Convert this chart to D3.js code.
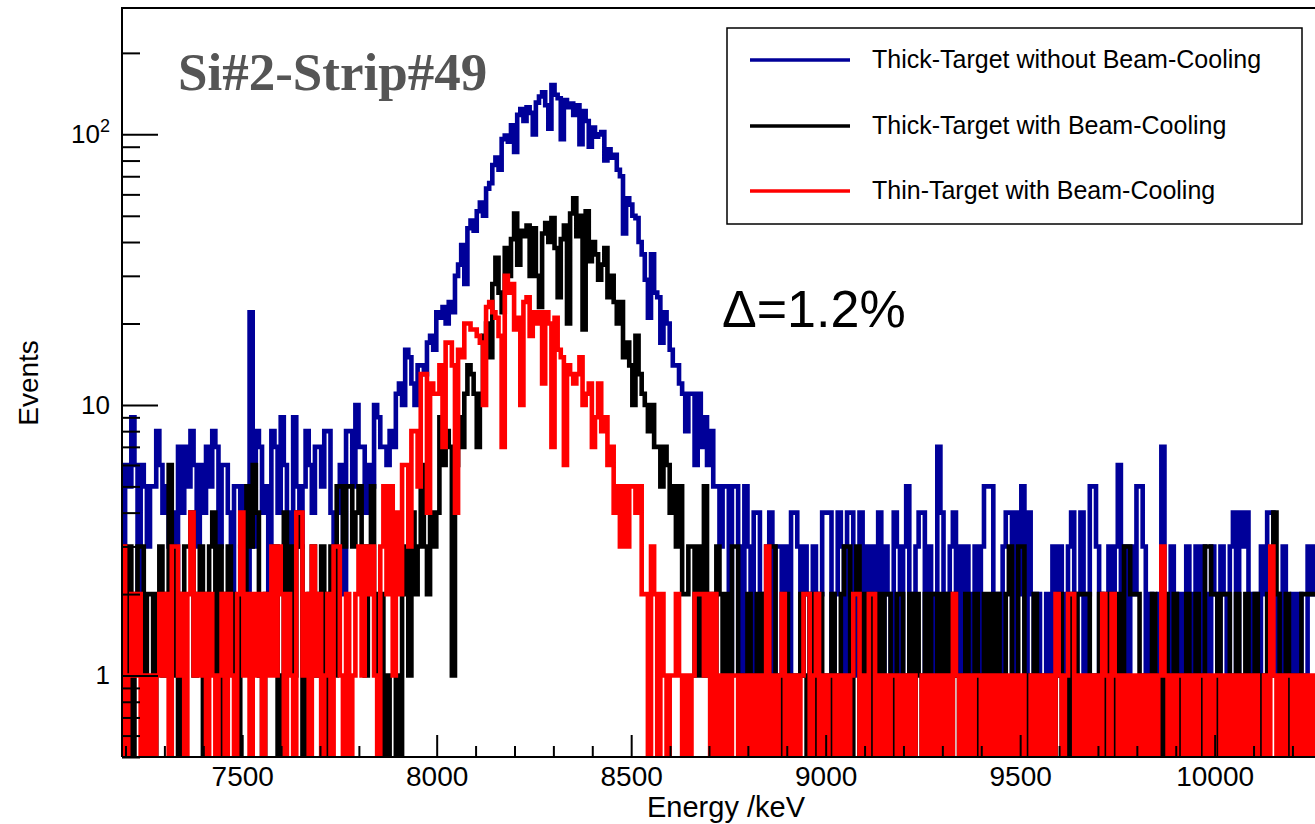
<!DOCTYPE html>
<html>
<head>
<meta charset="utf-8">
<script src="https://cdn.jsdelivr.net/npm/d3@7"></script>
<style>
  body { margin: 0; background: #fff; }
  svg { display: block; }
</style>
</head>
<body>
<svg id="chart" width="1315" height="824" font-family='"Liberation Sans", Arial, Helvetica, sans-serif'></svg>
<script>
// Histogram binning (keV)
const binLow = 7191;
const binWidth = 8;

// Bin contents, Si#2 strip #49 (counts per 8 keV bin)
const thickNoCooling = [
  3,6,5,9,6,2,6,5,3,5,5,8,6,4,5,3,4,2,7,4,7,5,8,6,
  3,6,4,7,5,8,7,3,6,6,4,2,5,5,3,5,2,22,3,8,7,4,5,2,
  8,7,4,9,6,4,3,9,5,3,5,8,6,4,7,7,5,8,8,4,3,4,6,2,
  8,8,5,10,7,7,4,6,5,10,9,7,7,6,8,7,11,12,10,16,15,12,10,14,
  14,13,17,18,16,22,21,23,20,24,22,30,33,39,28,45,48,44,52,56,50,63,66,77,
  82,74,96,99,94,108,86,118,124,112,126,120,100,131,138,143,128,105,152,140,136,96,134,126,
  130,118,128,92,122,112,90,106,98,100,102,80,88,82,84,74,70,43,58,55,50,49,40,36,
  29,21,36,26,25,17,22,20,16,14,14,12,11,8,11,11,6,11,7,9,6,8,5,5,
  3,5,5,1,5,5,3,1,5,3,1,4,4,2,1,3,4,1,3,3,1,3,1,4,
  4,3,1,3,2,0,3,1,2,4,4,4,1,2,4,3,1,4,4,2,1,4,1,3,
  1,3,2,4,1,3,2,1,4,3,1,3,5,2,1,3,4,4,1,3,1,2,7,4,
  1,2,3,4,1,3,1,3,2,1,3,1,3,5,5,5,1,2,1,3,4,4,1,4,
  2,5,1,4,2,1,2,0,0,2,1,3,1,3,2,0,3,4,1,2,4,1,2,5,
  5,3,1,2,1,3,1,3,6,2,3,1,3,2,5,5,3,1,2,1,0,2,7,1,
  1,3,2,1,2,1,3,1,2,3,1,3,2,1,3,2,1,3,2,1,3,4,1,4,
  3,4,1,2,2,1,3,2,4,4,1,2,1,3,1,1,2,0,2,1,1,3,2,3
];

const thickCooling = [
  3,1,3,0,2,3,3,1,2,2,0,2,3,1,2,6,3,1,0,2,3,3,4,1,
  2,3,0,2,3,4,1,3,0,2,3,2,1,0,3,2,5,3,6,4,1,0,2,2,
  2,3,0,1,4,2,3,1,4,3,0,1,2,3,1,2,3,0,2,3,1,5,5,3,
  5,5,3,4,5,3,1,3,5,2,1,2,0,1,0,0,1,0,2,3,1,4,2,3,
  6,3,2,4,3,4,9,6,8,7,1,6,9,7,11,14,13,11,7,11,18,20,15,28,
  35,26,22,38,30,41,51,33,44,42,46,30,45,30,23,43,47,40,49,38,25,41,46,20,
  51,58,42,50,19,52,34,40,36,29,33,38,25,30,24,20,24,15,17,14,10,18,13,11,
  10,8,10,7,7,5,7,6,4,5,3,5,2,2,3,3,1,3,1,5,1,2,1,3,
  2,0,2,1,3,3,1,0,1,2,0,1,2,0,2,0,3,3,1,0,1,2,0,1,
  0,1,2,1,0,2,0,1,2,0,1,0,2,1,0,2,3,3,0,2,3,0,2,1,
  2,0,1,2,0,2,2,0,1,2,2,0,1,2,0,2,1,0,2,0,2,2,0,2,
  1,2,0,2,1,0,1,2,0,1,2,0,1,2,0,2,1,2,0,1,2,3,0,1,
  3,3,0,1,0,2,1,0,1,0,1,0,1,2,0,1,0,2,1,2,2,2,2,0,
  1,0,2,1,0,2,1,0,2,1,3,3,2,2,2,0,1,0,1,2,0,1,0,2,
  1,0,2,1,0,1,2,0,1,2,0,1,3,3,2,2,0,2,2,2,0,1,2,0,
  1,2,0,1,2,0,1,0,2,2,4,2,0,1,2,0,1,0,1,2,2,2,2,2
];

const thinCooling = [
  3,0,1,2,1,2,0,1,0,1,0,1,2,1,2,0,3,3,1,2,0,2,4,1,
  2,1,2,0,2,1,0,1,2,0,2,1,0,2,4,1,2,0,2,1,2,0,2,1,
  3,1,3,2,0,2,1,0,4,4,1,2,0,3,1,2,0,1,2,0,3,3,1,0,
  2,0,1,2,3,1,3,2,3,1,0,3,5,2,5,1,4,2,6,6,3,8,8,5,
  13,13,4,12,11,11,14,7,17,17,14,4,16,15,20,20,19,19,18,17,10,23,24,22,
  21,18,7,30,26,28,19,21,10,24,25,18,22,20,22,12,22,20,7,21,16,15,6,14,
  13,12,13,15,10,11,12,7,9,12,8,9,6,7,4,5,3,5,3,5,5,4,5,2,
  2,0,3,2,0,2,1,0,1,1,2,1,0,1,0,1,2,2,2,1,2,0,2,0,
  1,0,1,0,1,1,0,1,0,1,0,1,0,1,0,3,0,1,0,1,2,0,1,0,
  1,0,1,2,2,0,1,2,0,1,0,1,1,0,1,0,1,0,1,2,2,0,1,0,
  2,2,0,1,0,1,0,1,1,0,1,0,1,0,1,0,0,1,0,1,0,1,0,1,
  0,1,0,2,1,0,1,0,1,0,1,1,0,1,0,1,0,1,0,1,0,1,0,1,
  0,1,0,0,1,0,1,0,1,0,1,0,2,1,0,1,2,2,0,1,0,1,0,1,
  0,1,0,2,1,0,2,1,0,1,0,1,0,1,0,1,0,1,0,1,0,1,3,1,
  0,1,0,1,1,0,1,0,1,0,1,1,0,1,0,1,1,0,1,0,1,0,1,0,
  1,0,1,0,1,0,0,1,0,3,1,0,1,0,1,1,0,1,0,1,0,1,0,1
];

const seriesNames = [
  "Thick-Target without Beam-Cooling",
  "Thick-Target with Beam-Cooling",
  "Thin-Target with Beam-Cooling"
];
const seriesColors = ["#000099", "#000000", "#ff0000"];
const seriesData = [thickNoCooling, thickCooling, thinCooling];

const xMajorTicks = [7500, 8000, 8500, 9000, 9500, 10000];
const yMajorTicks = [1, 10, 100];

(function draw() {
  const svg = d3.select("#chart");
  const frameL = 122, frameR = 1315, frameT = 8, frameB = 757;
  const sans = '"Liberation Sans", Arial, Helvetica, sans-serif';

  const x = d3.scaleLinear().domain([7191, 10258]).range([frameL, frameR]);
  const y = d3.scaleLog().domain([0.5, 293]).range([frameB, frameT]);

  // clip region = frame
  svg.append("defs").append("clipPath").attr("id", "frame")
    .append("rect").attr("x", frameL).attr("y", frameT)
    .attr("width", frameR - frameL).attr("height", frameB - frameT);

  // histograms in outline style; empty bins fall below the frame
  const yOf = v => (v > 0 ? y(v) : frameB + 8);
  const step = d3.line().x(d => x(d[0])).y(d => yOf(d[1])).curve(d3.curveStepAfter);

  const plot = svg.append("g").attr("clip-path", "url(#frame)");
  seriesData.forEach((vals, k) => {
    const pts = vals.map((v, i) => [binLow + i * binWidth, v]);
    pts.push([binLow + vals.length * binWidth, vals[vals.length - 1]]);
    plot.append("path")
      .attr("d", step(pts))
      .attr("fill", "none")
      .attr("stroke", seriesColors[k])
      .attr("stroke-width", 4.6)
      .attr("stroke-linejoin", "miter");
  });

  // frame
  svg.append("path")
    .attr("d", `M${frameL},${frameB}V${frameT}H${frameR + 5}`)
    .attr("fill", "none").attr("stroke", "#000").attr("stroke-width", 2);

  // y axis, ticks pointing inward
  const yMinor = [];
  [0.1, 1, 10, 100].forEach(dec => {
    for (let m = 1; m <= 9; m++) {
      const v = +(m * dec).toFixed(3);
      if (v >= 0.5 && v <= 293 && !yMajorTicks.includes(v)) yMinor.push(v);
    }
  });

  const yAxisMinor = svg.append("g").attr("transform", `translate(${frameL},0)`)
    .call(d3.axisLeft(y).tickValues(yMinor).tickSize(-18).tickSizeOuter(0).tickFormat(""));
  const yAxisMajor = svg.append("g").attr("transform", `translate(${frameL},0)`)
    .call(d3.axisLeft(y).tickValues(yMajorTicks).tickSize(-36).tickSizeOuter(0).tickPadding(12)
      .tickFormat(d => (d === 100 ? "10" : String(d))));

  [yAxisMinor, yAxisMajor].forEach(g => {
    g.select(".domain").remove();
    g.selectAll(".tick line").attr("stroke", "#000").attr("stroke-width", 2);
  });
  yAxisMajor.selectAll(".tick text")
    .attr("font-size", 26).attr("fill", "#000").attr("font-family", sans)
    .each(function (d) {
      if (d === 100) {
        d3.select(this).append("tspan").attr("dy", -11).attr("font-size", 18).text("2");
      }
    });

  // x axis, ticks pointing inward
  const xMinor = d3.range(7200, 10300, 100).filter(v => !xMajorTicks.includes(v) && v <= 10258);
  const xAxisMinor = svg.append("g").attr("transform", `translate(0,${frameB})`)
    .call(d3.axisBottom(x).tickValues(xMinor).tickSize(-11).tickSizeOuter(0).tickFormat(""));
  const xAxisMajor = svg.append("g").attr("transform", `translate(0,${frameB})`)
    .call(d3.axisBottom(x).tickValues(xMajorTicks).tickSize(-22).tickSizeOuter(0).tickPadding(9)
      .tickFormat(d3.format("d")));
  [xAxisMinor, xAxisMajor].forEach(g => {
    g.select(".domain").remove();
    g.selectAll(".tick line").attr("stroke", "#000").attr("stroke-width", 2);
  });
  xAxisMajor.selectAll(".tick text")
    .attr("font-size", 28).attr("fill", "#000").attr("font-family", sans);
  svg.append("line").attr("x1", frameL).attr("x2", frameR + 5).attr("y1", frameB).attr("y2", frameB)
    .attr("stroke", "#000").attr("stroke-width", 2);

  // axis titles
  svg.append("text").attr("x", 805).attr("y", 817).attr("text-anchor", "end")
    .attr("font-size", 29).text("Energy /keV");
  svg.append("text").attr("transform", "translate(38,383) rotate(-90)")
    .attr("text-anchor", "middle").attr("font-size", 28).text("Events");

  // title
  svg.append("text").attr("x", 178).attr("y", 90)
    .attr("font-family", '"Liberation Serif", "DejaVu Serif", serif')
    .attr("font-weight", "bold").attr("font-size", 53).attr("fill", "#555")
    .text("Si#2-Strip#49");

  // resolution annotation
  svg.append("text").attr("x", 722).attr("y", 327)
    .attr("font-size", 52).attr("fill", "#000").text("Δ=1.2%");

  // legend
  const legend = svg.append("g");
  legend.append("rect").attr("x", 727).attr("y", 28).attr("width", 575).attr("height", 196)
    .attr("fill", "#fff").attr("stroke", "#000").attr("stroke-width", 1.5);
  const legendY = [60, 126, 191];
  seriesNames.forEach((name, k) => {
    legend.append("line").attr("x1", 750).attr("x2", 850)
      .attr("y1", legendY[k]).attr("y2", legendY[k])
      .attr("stroke", seriesColors[k]).attr("stroke-width", 3.6);
    legend.append("text").attr("x", 872).attr("y", legendY[k] + 8)
      .attr("font-size", 25).attr("fill", "#000").text(name);
  });
})();
</script>
</body>
</html>
